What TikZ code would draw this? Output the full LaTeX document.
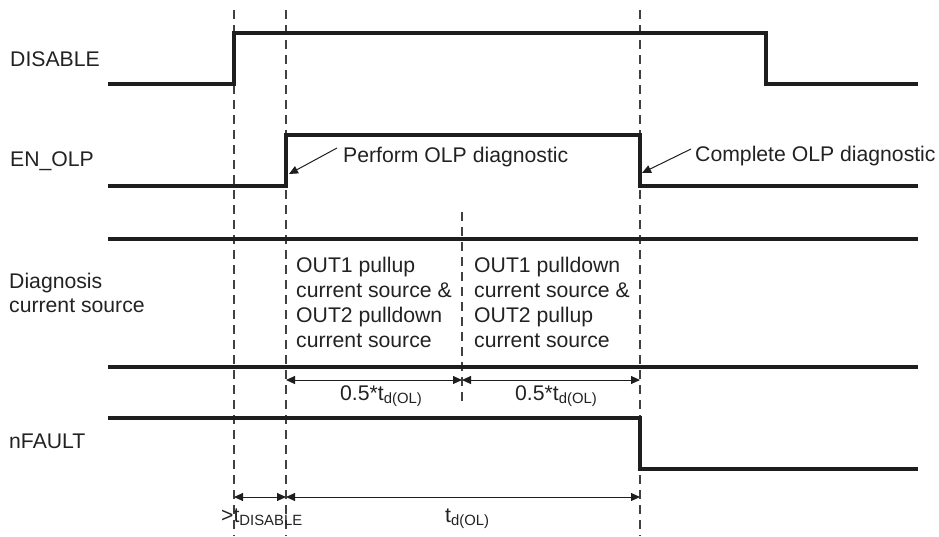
\documentclass[tikz,border=0pt]{standalone}
\usepackage{fontspec}
\setmainfont{Liberation Sans}
\usetikzlibrary{arrows.meta}
\definecolor{ink}{HTML}{1E1E1E}
\definecolor{txt}{HTML}{222222}
\begin{document}
\begin{tikzpicture}[x=1pt,y=-1pt,
  sig/.style={line width=3.6pt, draw=ink, line join=miter},
  guide/.style={line width=1.1pt, draw=ink!85, dash pattern=on 9pt off 6pt},
  lbl/.style={font=\fontsize{21.2}{24.5}\selectfont, text=txt, inner sep=0pt, anchor=base west},
  para/.style={font=\fontsize{21.2}{25}\selectfont, text=txt, inner sep=0pt, anchor=north west, align=left},
  dim/.style={line width=1pt, draw=ink, {Triangle[length=9pt,width=8pt]}-{Triangle[length=9pt,width=8pt]}},
  callout/.style={line width=1pt, draw=ink, -{Triangle[length=9pt,width=8pt]}}
]
\useasboundingbox (0,0) rectangle (939,536);

% guide lines
\coordinate (g1t) at (234,10);  \coordinate (g1b) at (234,536);
\coordinate (g2t) at (286,10);  \coordinate (g2b) at (286,536);
\coordinate (g3t) at (462,212); \coordinate (g3b) at (462,406);
\coordinate (g4t) at (640,10);  \coordinate (g4b) at (640,536);
\draw[guide] (g1t) -- (g1b);
\draw[guide] (g2t) -- (g2b);
\draw[guide] (g3t) -- (g3b);
\draw[guide] (g4t) -- (g4b);

% signal labels
\node[lbl] (lblDis) at (10,66) {DISABLE};
\node[lbl] (lblEn) at (10,166.5) {EN\_OLP};
\node[lbl, anchor=north west, align=left] (lblDiag) at (9,272.5) {Diagnosis\\current source};
\node[lbl] (lblNf) at (9,448) {nFAULT};

% waveforms
\draw[sig] (108,84) -- (234,84) -- (234,33) -- (766,33) -- (766,84) -- (918,84);
\draw[sig] (108,186) -- (286,186) -- (286,135) -- (640,135) -- (640,186) -- (918,186);
\draw[sig] (108,239) -- (918,239);
\draw[sig] (108,367) -- (918,367);
\draw[sig] (108,418) -- (640,418) -- (640,469) -- (918,469);

% callouts
\node[lbl] (perf) at (343,162) {Perform OLP diagnostic};
\node[lbl] (comp) at (695,161) {Complete OLP diagnostic};
\coordinate (perfS) at (337,148); \coordinate (perfE) at (289,174);
\coordinate (compS) at (691,149); \coordinate (compE) at (642,173);
\draw[callout] (perfS) -- (perfE);
\draw[callout] (compS) -- (compE);

% current source phases
\node[para] (txtA) at (296,256.5) {OUT1 pullup\\current source \&\\OUT2 pulldown\\current source};
\node[para] (txtB) at (474,256.5) {OUT1 pulldown\\current source \&\\OUT2 pullup\\current source};

% half-period dimensions
\coordinate (hA) at (286,380); \coordinate (hB) at (462,380); \coordinate (hC) at (640,380);
\draw[dim] (hA) -- (hB);
\draw[dim] (hB) -- (hC);
\node[lbl] (dimA) at (340,400) {0.5*t\textsubscript{d(OL)}};
\node[lbl] (dimB) at (515,400) {0.5*t\textsubscript{d(OL)}};

% bottom dimensions
\coordinate (bA) at (234,497); \coordinate (bB) at (286,497); \coordinate (bC) at (640,497);
\draw[dim] (bA) -- (bB);
\draw[dim] (bB) -- (bC);
\node[lbl] (dimC) at (221,522) {>t\textsubscript{DISABLE}};
\node[lbl] (dimD) at (445,522) {t\textsubscript{d(OL)}};
\end{tikzpicture}
\end{document}
